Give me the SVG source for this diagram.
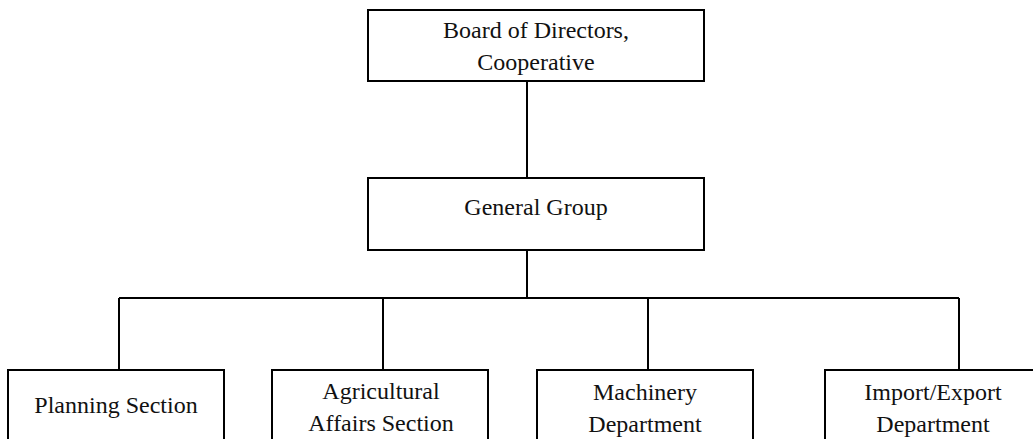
<svg xmlns="http://www.w3.org/2000/svg" width="1033" height="439" viewBox="0 0 1033 439">
<style>
.box{fill:#fff;stroke:#000;stroke-width:2}
.lbl{font-family:"Liberation Serif","Times New Roman",serif;font-size:24px;fill:#111;text-anchor:middle}
.con{fill:none;stroke:#000;stroke-width:2}
</style>
<rect width="1033" height="439" fill="#fff"/>
<g id="connectors">
<path class="con" d="M527 81 V178"/>
<path class="con" d="M527 250 V298"/>
<path class="con" d="M119 298 H959"/>
<path class="con" d="M119 298 V370"/>
<path class="con" d="M383 298 V370"/>
<path class="con" d="M648 298 V370"/>
<path class="con" d="M959 298 V370"/>
</g>
<g id="board">
<rect class="box" x="368" y="10" width="336" height="71"/>
<text class="lbl" x="536" y="38">Board of Directors,</text>
<text class="lbl" x="536" y="70">Cooperative</text>
</g>
<g id="general">
<rect class="box" x="368" y="178" width="336" height="72"/>
<text class="lbl" x="536" y="215">General Group</text>
</g>
<g id="planning">
<rect class="box" x="8" y="370" width="216" height="80"/>
<text class="lbl" x="116" y="413">Planning Section</text>
</g>
<g id="agricultural">
<rect class="box" x="272" y="370" width="216" height="80"/>
<text class="lbl" x="381" y="399">Agricultural</text>
<text class="lbl" x="381" y="431">Affairs Section</text>
</g>
<g id="machinery">
<rect class="box" x="537" y="370" width="216" height="80"/>
<text class="lbl" x="645" y="400">Machinery</text>
<text class="lbl" x="645" y="432">Department</text>
</g>
<g id="importexport">
<rect class="box" x="825" y="370" width="216" height="80"/>
<text class="lbl" x="933" y="400">Import/Export</text>
<text class="lbl" x="933" y="432">Department</text>
</g>
</svg>
